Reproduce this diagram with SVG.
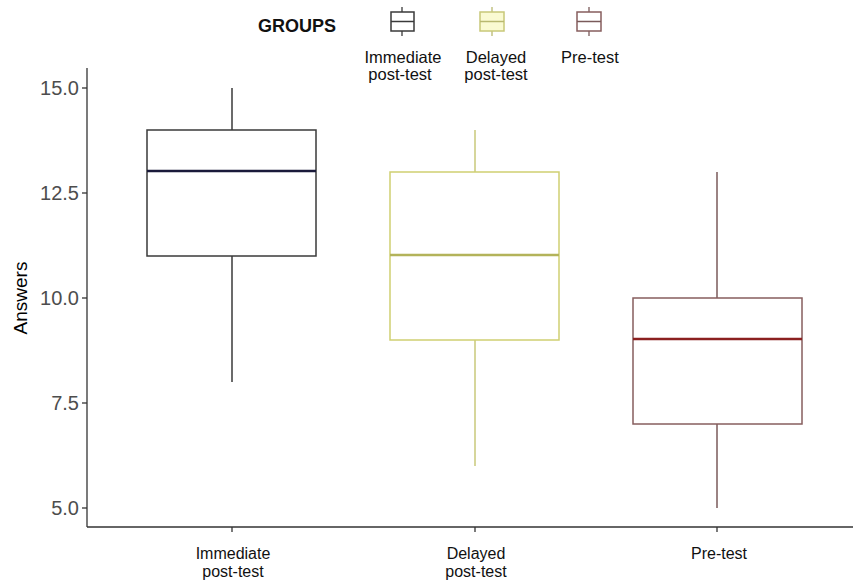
<svg xmlns="http://www.w3.org/2000/svg" width="853" height="583" viewBox="0 0 853 583">
<style>
text{font-family:"Liberation Sans",Arial,sans-serif;}
.tick{font-size:20px;fill:#4d4d4d;text-anchor:end;}
.xl{font-size:16px;fill:#111;text-anchor:middle;}
.lg{font-size:16.5px;fill:#111;text-anchor:middle;}
.axis{stroke:#333;stroke-width:1.3;fill:none;}
.b1{stroke:#3a3a3a;stroke-width:1.5;fill:#fff;}
.b2{stroke:#cfcf72;stroke-width:1.5;fill:#fff;}
.b3{stroke:#875e5e;stroke-width:1.5;fill:#fff;}
</style>
<rect width="853" height="583" fill="#fff"/>
<g id="legend">
<text x="258" y="32" font-size="18" font-weight="bold" fill="#111">GROUPS</text>
<g id="legend-immediate">
<line x1="402" y1="7" x2="402" y2="36" stroke="#3a3a3a" stroke-width="1.3"/>
<rect x="391" y="12" width="23" height="19" class="b1"/>
<line x1="391" y1="21.5" x2="414" y2="21.5" stroke="#3a3a3a" stroke-width="1.5"/>
<text class="lg" x="403" y="63">Immediate</text>
<text class="lg" x="400" y="80">post-test</text>
</g>
<g id="legend-delayed">
<line x1="492" y1="7" x2="492" y2="36" stroke="#b8b870" stroke-width="1.3"/>
<rect x="480" y="12" width="24" height="19" stroke="#c8c878" stroke-width="1.5" fill="#fafad2"/>
<line x1="480" y1="21.5" x2="504" y2="21.5" stroke="#b8b870" stroke-width="1.5"/>
<text class="lg" x="496" y="63">Delayed</text>
<text class="lg" x="496" y="80">post-test</text>
</g>
<g id="legend-pretest">
<line x1="589" y1="7" x2="589" y2="36" stroke="#7a5a5a" stroke-width="1.3"/>
<rect x="577" y="12" width="24" height="19" class="b3"/>
<line x1="577" y1="21.5" x2="601" y2="21.5" stroke="#7a5a5a" stroke-width="1.5"/>
<text class="lg" x="590" y="63">Pre-test</text>
</g>
</g>
<g id="axes">
<line x1="87" y1="68" x2="87" y2="527" class="axis"/>
<line x1="87" y1="527" x2="853" y2="527" class="axis"/>
<g stroke="#333" stroke-width="1.3">
<line x1="82" y1="88" x2="87" y2="88"/>
<line x1="82" y1="193" x2="87" y2="193"/>
<line x1="82" y1="298" x2="87" y2="298"/>
<line x1="82" y1="403" x2="87" y2="403"/>
<line x1="82" y1="508" x2="87" y2="508"/>
<line x1="232" y1="527" x2="232" y2="532"/>
<line x1="475" y1="527" x2="475" y2="532"/>
<line x1="717" y1="527" x2="717" y2="532"/>
</g>
<text class="tick" x="79" y="95">15.0</text>
<text class="tick" x="79" y="200">12.5</text>
<text class="tick" x="79" y="305">10.0</text>
<text class="tick" x="79" y="410">7.5</text>
<text class="tick" x="79" y="515">5.0</text>
<text x="27" y="298" font-size="19" fill="#000" text-anchor="middle" transform="rotate(-90 27 298)">Answers</text>
<text class="xl" x="233" y="559">Immediate</text>
<text class="xl" x="233" y="577">post-test</text>
<text class="xl" x="476" y="559">Delayed</text>
<text class="xl" x="476" y="577">post-test</text>
<text class="xl" x="719" y="559">Pre-test</text>
</g>
<g id="box-immediate">
<line x1="232" y1="88" x2="232" y2="382" stroke="#3a3a3a" stroke-width="1.5"/>
<rect x="147" y="130" width="169" height="126" class="b1"/>
<line x1="147" y1="171" x2="316" y2="171" stroke="#1a1a3a" stroke-width="2.6"/>
</g>
<g id="box-delayed">
<line x1="475" y1="130" x2="475" y2="466" stroke="#c8c87a" stroke-width="1.5"/>
<rect x="390" y="172" width="169" height="168" class="b2"/>
<line x1="390" y1="255" x2="559" y2="255" stroke="#b3b35a" stroke-width="2.6"/>
</g>
<g id="box-pretest">
<line x1="717" y1="172" x2="717" y2="508" stroke="#7a5a5a" stroke-width="1.5"/>
<rect x="633" y="298" width="169" height="126" class="b3"/>
<line x1="633" y1="339" x2="802" y2="339" stroke="#8b2020" stroke-width="2.6"/>
</g>
</svg>
